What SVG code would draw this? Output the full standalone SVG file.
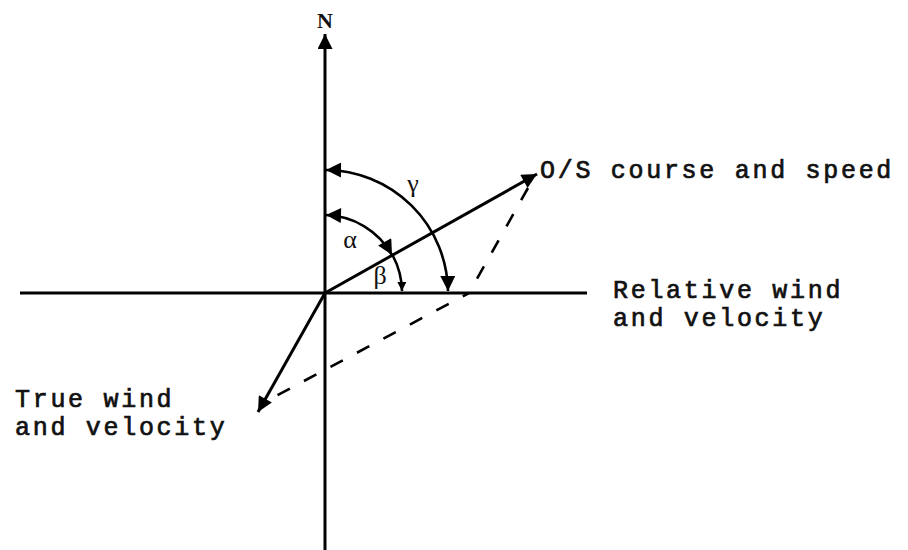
<svg xmlns="http://www.w3.org/2000/svg" width="908" height="550" viewBox="0 0 908 550">
<style>
.ax{stroke:#000;stroke-width:3;fill:none}
.arc{stroke:#000;stroke-width:2.6;fill:none}
.dash{stroke:#000;stroke-width:2.6;fill:none;stroke-dasharray:14 16}
.lbl{font-family:"Liberation Mono","Courier New",monospace;font-size:25px;letter-spacing:2.7px;fill:#111;stroke:#111;stroke-width:0.7px}
.gr{font-family:"Liberation Serif","DejaVu Serif",serif;font-size:26px;fill:#111}
</style>
<defs>
<marker id="big" viewBox="0 0 10 10" refX="10" refY="5" markerUnits="userSpaceOnUse" markerWidth="25" markerHeight="15" orient="auto-start-reverse"><path d="M0,0 L10,5 L0,10 z" fill="#000"/></marker>
<marker id="mid" viewBox="0 0 10 10" refX="10" refY="5" markerUnits="userSpaceOnUse" markerWidth="26" markerHeight="15" orient="auto-start-reverse"><path d="M0,0 L10,5 L0,10 z" fill="#000"/></marker>
<marker id="thin" viewBox="0 0 10 10" refX="10" refY="5" markerUnits="userSpaceOnUse" markerWidth="22" markerHeight="9" orient="auto-start-reverse"><path d="M0,0 L10,5 L0,10 z" fill="#000"/></marker>
</defs>
<g id="connectors">
<line id="n-axis" class="ax" x1="325" y1="550" x2="325" y2="34" marker-end="url(#big)"/>
<line id="e-axis" class="ax" x1="20" y1="293" x2="587" y2="293"/>
<line id="os-vector" class="ax" x1="325" y1="293" x2="537" y2="174" marker-end="url(#big)"/>
<line id="true-wind" class="ax" x1="325" y1="293" x2="258" y2="412" marker-end="url(#big)"/>
<line id="dash-upper" class="dash" x1="528" y1="188" x2="469" y2="293"/>
<line id="dash-lower" class="dash" x1="274" y1="397" x2="469" y2="293" stroke-dashoffset="-4"/>
<path id="gamma-arc" class="arc" d="M448,291 A123,123 0 0 0 326,170" marker-start="url(#mid)" marker-end="url(#mid)"/>
<path id="alpha-arc" class="arc" d="M392,255 A78,78 0 0 0 326,215" marker-start="url(#mid)" marker-end="url(#mid)"/>
<path id="beta-arc" class="arc" d="M393,256 A78,78 0 0 1 402,291" marker-end="url(#thin)"/>
</g>
<g id="label-n"><text x="325" y="28" text-anchor="middle" style="font-family:'Liberation Serif',serif;font-weight:bold;font-size:22px;fill:#111">N</text></g>
<g id="label-os"><text class="lbl" x="540" y="178">O/S course and speed</text></g>
<g id="label-rel"><text class="lbl" x="613" y="298">Relative wind</text><text class="lbl" x="613" y="326">and velocity</text></g>
<g id="label-true"><text class="lbl" x="15" y="407">True wind</text><text class="lbl" x="15" y="435">and velocity</text></g>
<g id="label-gamma"><text class="gr" x="413" y="192" text-anchor="middle">γ</text></g>
<g id="label-alpha"><text class="gr" x="350" y="248" text-anchor="middle">α</text></g>
<g id="label-beta"><text class="gr" x="380" y="284" text-anchor="middle">β</text></g>
</svg>
